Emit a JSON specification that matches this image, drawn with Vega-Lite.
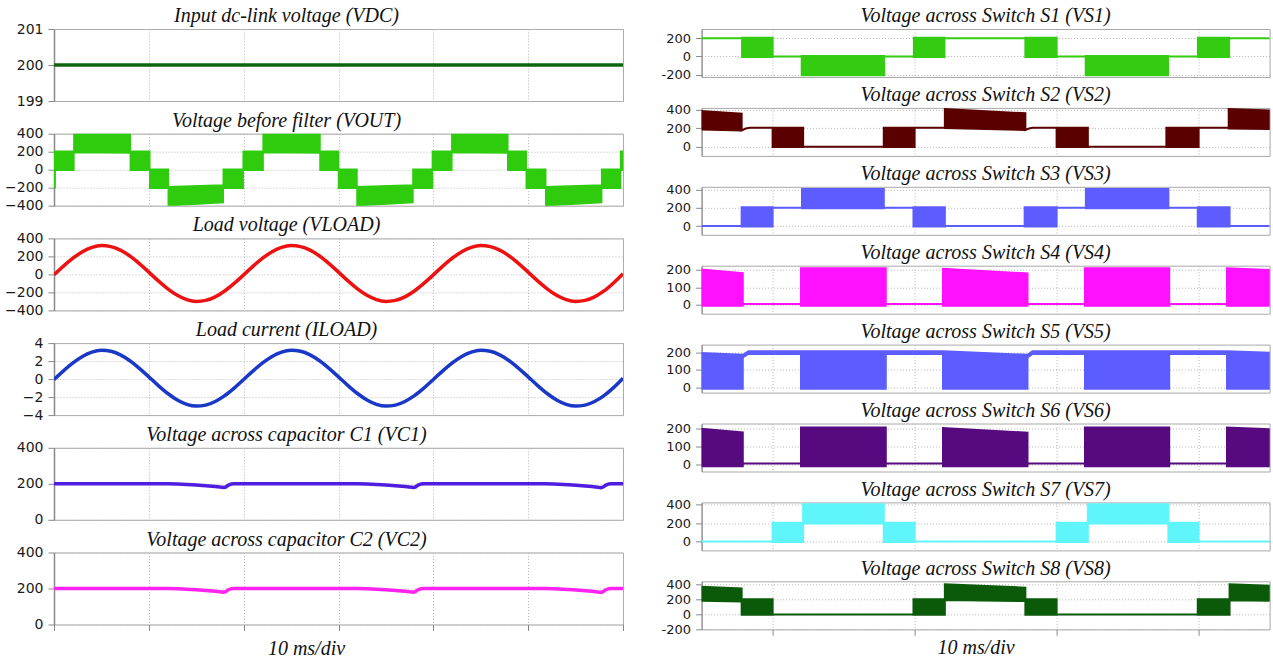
{
 "$schema": "https://vega.github.io/schema/vega-lite/v6.json",
 "padding": {"left": 3, "top": 5, "right": 5, "bottom": 0},
 "background": "white",
 "config": {
  "view": {"stroke": "#a8a8a8", "strokeWidth": 1},
  "axis": {"labelFont": "DejaVu Sans", "labelFontSize": 14, "labelColor": "#1a1a1a", "tickColor": "#888", "tickSize": 6, "labelPadding": 5, "labelOverlap": false, "domainColor": "#888", "gridColor": "#b5b5b5", "gridDash": [1, 2], "gridWidth": 1, "titleFont": "Liberation Serif", "titleFontStyle": "italic", "titleFontWeight": "normal", "titleFontSize": 20, "titleColor": "#111"},
  "title": {"font": "Liberation Serif", "fontStyle": "italic", "fontWeight": "normal", "fontSize": 20, "offset": 3, "color": "#111", "anchor": "middle", "frame": "group"}
 },
 "datasets": {
  "vdc": [{"t": 0, "v": 200}, {"t": 60, "v": 200}],
  "vout": [
   {"t": 0, "lo": -200, "hi": 200}, {"t": 0.12, "lo": -200, "hi": 200}, {"t": 0.121, "lo": -5, "hi": 205},
   {"t": 2.1, "lo": -5, "hi": 205}, {"t": 2.101, "lo": 190, "hi": 400}, {"t": 8.05, "lo": 185, "hi": 400},
   {"t": 8.051, "lo": -5, "hi": 205}, {"t": 10.1, "lo": -5, "hi": 205}, {"t": 10.101, "lo": -205, "hi": 5},
   {"t": 12.05, "lo": -205, "hi": 5}, {"t": 12.051, "lo": -400, "hi": -190}, {"t": 17.85, "lo": -365, "hi": -170},
   {"t": 17.851, "lo": -205, "hi": 5}, {"t": 19.95, "lo": -205, "hi": 5}, {"t": 19.951, "lo": -5, "hi": 205},
   {"t": 22.05, "lo": -5, "hi": 205}, {"t": 22.051, "lo": 190, "hi": 400}, {"t": 28.05, "lo": 185, "hi": 400},
   {"t": 28.051, "lo": -5, "hi": 205}, {"t": 30.0, "lo": -5, "hi": 205}, {"t": 30.001, "lo": -205, "hi": 5},
   {"t": 31.95, "lo": -205, "hi": 5}, {"t": 31.951, "lo": -400, "hi": -190}, {"t": 37.85, "lo": -365, "hi": -170},
   {"t": 37.851, "lo": -205, "hi": 5}, {"t": 39.9, "lo": -205, "hi": 5}, {"t": 39.901, "lo": -5, "hi": 205},
   {"t": 41.95, "lo": -5, "hi": 205}, {"t": 41.951, "lo": 190, "hi": 400}, {"t": 47.85, "lo": 185, "hi": 400},
   {"t": 47.851, "lo": -5, "hi": 205}, {"t": 49.8, "lo": -5, "hi": 205}, {"t": 49.801, "lo": -205, "hi": 5},
   {"t": 51.85, "lo": -205, "hi": 5}, {"t": 51.851, "lo": -400, "hi": -190}, {"t": 57.75, "lo": -365, "hi": -170},
   {"t": 57.751, "lo": -205, "hi": 5}, {"t": 59.75, "lo": -205, "hi": 5}, {"t": 59.751, "lo": -5, "hi": 205},
   {"t": 60, "lo": -5, "hi": 205}
  ],
  "sine": [
   {"t": 0, "v": -5, "i": -0.05}, {"t": 1, "v": 92, "i": 0.92}, {"t": 2, "v": 180, "i": 1.8}, {"t": 3, "v": 252, "i": 2.52}, {"t": 4, "v": 300, "i": 3.0},
   {"t": 5, "v": 320, "i": 3.2}, {"t": 6, "v": 309, "i": 3.09}, {"t": 7, "v": 269, "i": 2.69}, {"t": 8, "v": 204, "i": 2.04}, {"t": 9, "v": 120, "i": 1.2},
   {"t": 10, "v": 25, "i": 0.25}, {"t": 11, "v": -72, "i": -0.72}, {"t": 12, "v": -160, "i": -1.6}, {"t": 13, "v": -232, "i": -2.32}, {"t": 14, "v": -280, "i": -2.8},
   {"t": 15, "v": -300, "i": -3.0}, {"t": 16, "v": -289, "i": -2.89}, {"t": 17, "v": -249, "i": -2.49}, {"t": 18, "v": -184, "i": -1.84}, {"t": 19, "v": -100, "i": -1.0},
   {"t": 20, "v": -5, "i": -0.05}, {"t": 21, "v": 92, "i": 0.92}, {"t": 22, "v": 180, "i": 1.8}, {"t": 23, "v": 252, "i": 2.52}, {"t": 24, "v": 300, "i": 3.0},
   {"t": 25, "v": 320, "i": 3.2}, {"t": 26, "v": 309, "i": 3.09}, {"t": 27, "v": 269, "i": 2.69}, {"t": 28, "v": 204, "i": 2.04}, {"t": 29, "v": 120, "i": 1.2},
   {"t": 30, "v": 25, "i": 0.25}, {"t": 31, "v": -72, "i": -0.72}, {"t": 32, "v": -160, "i": -1.6}, {"t": 33, "v": -232, "i": -2.32}, {"t": 34, "v": -280, "i": -2.8},
   {"t": 35, "v": -300, "i": -3.0}, {"t": 36, "v": -289, "i": -2.89}, {"t": 37, "v": -249, "i": -2.49}, {"t": 38, "v": -184, "i": -1.84}, {"t": 39, "v": -100, "i": -1.0},
   {"t": 40, "v": -5, "i": -0.05}, {"t": 41, "v": 92, "i": 0.92}, {"t": 42, "v": 180, "i": 1.8}, {"t": 43, "v": 252, "i": 2.52}, {"t": 44, "v": 300, "i": 3.0},
   {"t": 45, "v": 320, "i": 3.2}, {"t": 46, "v": 309, "i": 3.09}, {"t": 47, "v": 269, "i": 2.69}, {"t": 48, "v": 204, "i": 2.04}, {"t": 49, "v": 120, "i": 1.2},
   {"t": 50, "v": 25, "i": 0.25}, {"t": 51, "v": -72, "i": -0.72}, {"t": 52, "v": -160, "i": -1.6}, {"t": 53, "v": -232, "i": -2.32}, {"t": 54, "v": -280, "i": -2.8},
   {"t": 55, "v": -300, "i": -3.0}, {"t": 56, "v": -289, "i": -2.89}, {"t": 57, "v": -249, "i": -2.49}, {"t": 58, "v": -184, "i": -1.84}, {"t": 59, "v": -95, "i": -0.95},
   {"t": 60, "v": 8, "i": 0.1}
  ],
  "cap": [
   {"t": 0, "v": 200}, {"t": 12, "v": 200}, {"t": 13, "v": 198.5}, {"t": 14, "v": 196}, {"t": 15, "v": 193}, {"t": 16, "v": 189}, {"t": 17, "v": 184.5}, {"t": 17.9, "v": 179}, {"t": 18.1, "v": 182}, {"t": 18.35, "v": 192}, {"t": 18.7, "v": 199}, {"t": 19, "v": 200},
   {"t": 32, "v": 200}, {"t": 33, "v": 198.5}, {"t": 34, "v": 196}, {"t": 35, "v": 193}, {"t": 36, "v": 189}, {"t": 37, "v": 184.5}, {"t": 37.9, "v": 179}, {"t": 38.1, "v": 182}, {"t": 38.35, "v": 192}, {"t": 38.7, "v": 199}, {"t": 39, "v": 200},
   {"t": 51.7, "v": 200}, {"t": 52.7, "v": 198.5}, {"t": 53.7, "v": 196}, {"t": 54.7, "v": 193}, {"t": 55.7, "v": 189}, {"t": 56.7, "v": 184.5}, {"t": 57.7, "v": 178}, {"t": 57.9, "v": 182}, {"t": 58.15, "v": 192}, {"t": 58.5, "v": 199}, {"t": 58.8, "v": 200},
   {"t": 60, "v": 200}
  ],
  "s1": [
   {"t": 0, "lo": 200, "hi": 200}, {"t": 2.85, "lo": 200, "hi": 200}, {"t": 2.851, "lo": -5, "hi": 205}, {"t": 5.0, "lo": -5, "hi": 205},
   {"t": 5.001, "lo": 0, "hi": 0}, {"t": 7.05, "lo": 0, "hi": 0}, {"t": 7.051, "lo": -205, "hi": 5}, {"t": 12.85, "lo": -205, "hi": 5},
   {"t": 12.851, "lo": 0, "hi": 0}, {"t": 14.95, "lo": 0, "hi": 0}, {"t": 14.951, "lo": -5, "hi": 205}, {"t": 17.1, "lo": -5, "hi": 205},
   {"t": 17.101, "lo": 200, "hi": 200}, {"t": 22.8, "lo": 200, "hi": 200}, {"t": 22.801, "lo": -5, "hi": 205}, {"t": 25.0, "lo": -5, "hi": 205},
   {"t": 25.001, "lo": 0, "hi": 0}, {"t": 27.05, "lo": 0, "hi": 0}, {"t": 27.051, "lo": -205, "hi": 5}, {"t": 32.85, "lo": -205, "hi": 5},
   {"t": 32.851, "lo": 0, "hi": 0}, {"t": 34.95, "lo": 0, "hi": 0}, {"t": 34.951, "lo": -5, "hi": 205}, {"t": 37.15, "lo": -5, "hi": 205},
   {"t": 37.151, "lo": 200, "hi": 200}, {"t": 40, "lo": 200, "hi": 200}
  ],
  "s2": [
   {"t": 0, "lo": 185, "hi": 385}, {"t": 2.82, "lo": 175, "hi": 355}, {"t": 2.821, "lo": 175, "hi": 175}, {"t": 3.1, "lo": 195, "hi": 195},
   {"t": 3.4, "lo": 203, "hi": 203}, {"t": 5.0, "lo": 203, "hi": 203}, {"t": 5.001, "lo": -5, "hi": 205}, {"t": 7.15, "lo": -5, "hi": 205},
   {"t": 7.151, "lo": 0, "hi": 0}, {"t": 12.83, "lo": 0, "hi": 0}, {"t": 12.831, "lo": -5, "hi": 205}, {"t": 15.0, "lo": -5, "hi": 205},
   {"t": 15.001, "lo": 203, "hi": 203}, {"t": 17.13, "lo": 203, "hi": 203}, {"t": 17.131, "lo": 200, "hi": 405}, {"t": 22.8, "lo": 180, "hi": 360},
   {"t": 22.801, "lo": 180, "hi": 180}, {"t": 23.05, "lo": 195, "hi": 195}, {"t": 23.3, "lo": 203, "hi": 203}, {"t": 25.0, "lo": 203, "hi": 203},
   {"t": 25.001, "lo": -5, "hi": 205}, {"t": 27.2, "lo": -5, "hi": 205}, {"t": 27.201, "lo": 0, "hi": 0}, {"t": 32.73, "lo": 0, "hi": 0},
   {"t": 32.731, "lo": -5, "hi": 205}, {"t": 35.0, "lo": -5, "hi": 205}, {"t": 35.001, "lo": 203, "hi": 203}, {"t": 37.12, "lo": 203, "hi": 203},
   {"t": 37.121, "lo": 195, "hi": 405}, {"t": 40, "lo": 190, "hi": 390}
  ],
  "s3": [
   {"t": 0, "lo": 0, "hi": 0}, {"t": 2.82, "lo": 0, "hi": 0}, {"t": 2.821, "lo": -5, "hi": 205}, {"t": 5.0, "lo": -5, "hi": 205},
   {"t": 5.001, "lo": 200, "hi": 200}, {"t": 7.07, "lo": 200, "hi": 200}, {"t": 7.071, "lo": 195, "hi": 405}, {"t": 12.83, "lo": 195, "hi": 405},
   {"t": 12.831, "lo": 200, "hi": 200}, {"t": 14.92, "lo": 200, "hi": 200}, {"t": 14.921, "lo": -5, "hi": 205}, {"t": 17.13, "lo": -5, "hi": 205},
   {"t": 17.131, "lo": 0, "hi": 0}, {"t": 22.75, "lo": 0, "hi": 0}, {"t": 22.751, "lo": -5, "hi": 205}, {"t": 25.0, "lo": -5, "hi": 205},
   {"t": 25.001, "lo": 200, "hi": 200}, {"t": 27.06, "lo": 200, "hi": 200}, {"t": 27.061, "lo": 195, "hi": 405}, {"t": 32.87, "lo": 195, "hi": 405},
   {"t": 32.871, "lo": 200, "hi": 200}, {"t": 34.94, "lo": 200, "hi": 200}, {"t": 34.941, "lo": -5, "hi": 205}, {"t": 37.18, "lo": -5, "hi": 205},
   {"t": 37.181, "lo": 0, "hi": 0}, {"t": 40, "lo": 0, "hi": 0}
  ],
  "s4": [
   {"t": 0, "lo": -5, "hi": 200}, {"t": 2.9, "lo": -5, "hi": 180}, {"t": 2.901, "lo": 5, "hi": 5}, {"t": 7.0, "lo": 5, "hi": 5},
   {"t": 7.001, "lo": -5, "hi": 208}, {"t": 12.97, "lo": -5, "hi": 208}, {"t": 12.971, "lo": 5, "hi": 5}, {"t": 17.0, "lo": 5, "hi": 5},
   {"t": 17.001, "lo": -5, "hi": 205}, {"t": 22.95, "lo": -5, "hi": 178}, {"t": 22.951, "lo": 5, "hi": 5}, {"t": 27.0, "lo": 5, "hi": 5},
   {"t": 27.001, "lo": -5, "hi": 208}, {"t": 32.93, "lo": -5, "hi": 208}, {"t": 32.931, "lo": 5, "hi": 5}, {"t": 37.0, "lo": 5, "hi": 5},
   {"t": 37.001, "lo": -5, "hi": 207}, {"t": 40, "lo": -5, "hi": 198}
  ],
  "s5": [
   {"t": 0, "lo": -8, "hi": 195}, {"t": 2.9, "lo": -8, "hi": 185}, {"t": 2.901, "lo": 170, "hi": 185}, {"t": 3.3, "lo": 190, "hi": 205},
   {"t": 7.0, "lo": 190, "hi": 205}, {"t": 7.001, "lo": -8, "hi": 205}, {"t": 12.97, "lo": -8, "hi": 205}, {"t": 12.971, "lo": 190, "hi": 205},
   {"t": 17.0, "lo": 190, "hi": 205}, {"t": 17.001, "lo": -8, "hi": 205}, {"t": 22.95, "lo": -8, "hi": 185}, {"t": 22.951, "lo": 170, "hi": 185},
   {"t": 23.3, "lo": 190, "hi": 205}, {"t": 27.0, "lo": 190, "hi": 205}, {"t": 27.001, "lo": -8, "hi": 205}, {"t": 32.93, "lo": -8, "hi": 205},
   {"t": 32.931, "lo": 190, "hi": 205}, {"t": 37.0, "lo": 190, "hi": 205}, {"t": 37.001, "lo": -8, "hi": 205}, {"t": 40, "lo": -8, "hi": 197}
  ],
  "s6": [
   {"t": 0, "lo": -10, "hi": 200}, {"t": 2.9, "lo": -10, "hi": 180}, {"t": 2.901, "lo": 5, "hi": 5}, {"t": 7.0, "lo": 5, "hi": 5},
   {"t": 7.001, "lo": -10, "hi": 208}, {"t": 12.97, "lo": -10, "hi": 208}, {"t": 12.971, "lo": 5, "hi": 5}, {"t": 17.0, "lo": 5, "hi": 5},
   {"t": 17.001, "lo": -10, "hi": 205}, {"t": 22.95, "lo": -10, "hi": 178}, {"t": 22.951, "lo": 5, "hi": 5}, {"t": 27.0, "lo": 5, "hi": 5},
   {"t": 27.001, "lo": -10, "hi": 208}, {"t": 32.93, "lo": -10, "hi": 208}, {"t": 32.931, "lo": 5, "hi": 5}, {"t": 37.0, "lo": 5, "hi": 5},
   {"t": 37.001, "lo": -10, "hi": 207}, {"t": 40, "lo": -10, "hi": 198}
  ],
  "s7": [
   {"t": 0, "lo": 0, "hi": 0}, {"t": 5.0, "lo": 0, "hi": 0}, {"t": 5.001, "lo": -5, "hi": 205}, {"t": 7.15, "lo": -5, "hi": 205},
   {"t": 7.151, "lo": 195, "hi": 405}, {"t": 12.83, "lo": 195, "hi": 405}, {"t": 12.831, "lo": -5, "hi": 205}, {"t": 15.0, "lo": -5, "hi": 205},
   {"t": 15.001, "lo": 0, "hi": 0}, {"t": 25.0, "lo": 0, "hi": 0}, {"t": 25.001, "lo": -5, "hi": 205}, {"t": 27.2, "lo": -5, "hi": 205},
   {"t": 27.201, "lo": 195, "hi": 405}, {"t": 32.87, "lo": 195, "hi": 405}, {"t": 32.871, "lo": -5, "hi": 205}, {"t": 35.0, "lo": -5, "hi": 205},
   {"t": 35.001, "lo": 0, "hi": 0}, {"t": 40, "lo": 0, "hi": 0}
  ],
  "s8": [
   {"t": 0, "lo": 185, "hi": 370}, {"t": 2.82, "lo": 175, "hi": 350}, {"t": 2.821, "lo": -5, "hi": 205}, {"t": 5.0, "lo": -5, "hi": 205},
   {"t": 5.001, "lo": 0, "hi": 0}, {"t": 14.92, "lo": 0, "hi": 0}, {"t": 14.921, "lo": -5, "hi": 205}, {"t": 17.13, "lo": -5, "hi": 205},
   {"t": 17.131, "lo": 195, "hi": 405}, {"t": 22.8, "lo": 180, "hi": 360}, {"t": 22.801, "lo": -5, "hi": 205}, {"t": 25.0, "lo": -5, "hi": 205},
   {"t": 25.001, "lo": 0, "hi": 0}, {"t": 34.94, "lo": 0, "hi": 0}, {"t": 34.941, "lo": -5, "hi": 205}, {"t": 37.18, "lo": -5, "hi": 205},
   {"t": 37.181, "lo": 190, "hi": 405}, {"t": 40, "lo": 185, "hi": 385}
  ]
 },
 "spacing": 32.6,
 "hconcat": [
  {
   "spacing": 32.7,
   "bounds": "flush",
   "vconcat": [
    {
     "width": 569, "height": 72,
     "title": {"text": "Input dc-link voltage (VDC)", "dx": -52, "dy": 7},
     "data": {"name": "vdc"},
     "mark": {"type": "line", "color": "#0d640d", "strokeWidth": 3.5, "clip": true},
     "encoding": {
      "x": {"field": "t", "type": "quantitative", "scale": {"domain": [0, 60], "nice": false, "zero": false}, "axis": {"values": [0, 10, 20, 30, 40, 50, 60], "labels": false, "ticks": false, "domain": false, "title": null}},
      "y": {"field": "v", "type": "quantitative", "scale": {"domain": [199, 201], "nice": false, "zero": false}, "axis": {"values": [199, 200, 201], "format": ".0f", "labelOverlap": false, "title": null, "minExtent": 50, "maxExtent": 50, "domainWidth": 1.5}}
     }
    },
    {
     "width": 569, "height": 72,
     "title": {"text": "Voltage before filter (VOUT)", "dx": -52, "dy": 7},
     "data": {"name": "vout"},
     "mark": {"type": "area", "color": "#2fcc0e", "stroke": "#2fcc0e", "strokeWidth": 1.5, "opacity": 1, "clip": true},
     "encoding": {
      "x": {"field": "t", "type": "quantitative", "scale": {"domain": [0, 60], "nice": false, "zero": false}, "axis": {"values": [0, 10, 20, 30, 40, 50, 60], "labels": false, "ticks": false, "domain": false, "title": null}},
      "y": {"field": "lo", "type": "quantitative", "scale": {"domain": [-400, 400], "nice": false, "zero": false}, "axis": {"values": [-400, -200, 0, 200, 400], "title": null, "minExtent": 50, "maxExtent": 50, "domainWidth": 1.5}},
      "y2": {"field": "hi"}
     }
    },
    {
     "width": 569, "height": 72,
     "title": {"text": "Load voltage (VLOAD)", "dx": -52, "dy": 7},
     "data": {"name": "sine"},
     "mark": {"type": "line", "color": "#ee1111", "strokeWidth": 3.5, "interpolate": "monotone", "clip": true},
     "encoding": {
      "x": {"field": "t", "type": "quantitative", "scale": {"domain": [0, 60], "nice": false, "zero": false}, "axis": {"values": [0, 10, 20, 30, 40, 50, 60], "labels": false, "ticks": false, "domain": false, "title": null}},
      "y": {"field": "v", "type": "quantitative", "scale": {"domain": [-400, 400], "nice": false, "zero": false}, "axis": {"values": [-400, -200, 0, 200, 400], "title": null, "minExtent": 50, "maxExtent": 50, "domainWidth": 1.5}}
     }
    },
    {
     "width": 569, "height": 72,
     "title": {"text": "Load current (ILOAD)", "dx": -52, "dy": 7},
     "data": {"name": "sine"},
     "mark": {"type": "line", "color": "#1a38c8", "strokeWidth": 3.5, "interpolate": "monotone", "clip": true},
     "encoding": {
      "x": {"field": "t", "type": "quantitative", "scale": {"domain": [0, 60], "nice": false, "zero": false}, "axis": {"values": [0, 10, 20, 30, 40, 50, 60], "labels": false, "ticks": false, "domain": false, "title": null}},
      "y": {"field": "i", "type": "quantitative", "scale": {"domain": [-4, 4], "nice": false, "zero": false}, "axis": {"values": [-4, -2, 0, 2, 4], "title": null, "minExtent": 50, "maxExtent": 50, "domainWidth": 1.5}}
     }
    },
    {
     "width": 569, "height": 72,
     "title": {"text": "Voltage across capacitor C1 (VC1)", "dx": -52, "dy": 7},
     "data": {"name": "cap"},
     "mark": {"type": "line", "color": "#4f1de0", "strokeWidth": 3.5, "clip": true},
     "encoding": {
      "x": {"field": "t", "type": "quantitative", "scale": {"domain": [0, 60], "nice": false, "zero": false}, "axis": {"values": [0, 10, 20, 30, 40, 50, 60], "labels": false, "ticks": false, "domain": false, "title": null}},
      "y": {"field": "v", "type": "quantitative", "scale": {"domain": [0, 400], "nice": false, "zero": false}, "axis": {"values": [0, 200, 400], "title": null, "minExtent": 50, "maxExtent": 50, "domainWidth": 1.5}}
     }
    },
    {
     "width": 569, "height": 72,
     "title": {"text": "Voltage across capacitor C2 (VC2)", "dx": -52, "dy": 7},
     "data": {"name": "cap"},
     "mark": {"type": "line", "color": "#ff22f0", "strokeWidth": 3.5, "clip": true},
     "encoding": {
      "x": {"field": "t", "type": "quantitative", "scale": {"domain": [0, 60], "nice": false, "zero": false}, "axis": {"values": [0, 10, 20, 30, 40, 50, 60], "labels": false, "ticks": true, "tickSize": 6, "domain": false, "title": "10 ms/div", "titlePadding": 7, "titleX": 252, "titleAlign": "center"}},
      "y": {"field": "v", "type": "quantitative", "scale": {"domain": [0, 400], "nice": false, "zero": false}, "axis": {"values": [0, 200, 400], "title": null, "minExtent": 50, "maxExtent": 50, "domainWidth": 1.5}}
     }
    }
   ]
  },
  {
   "spacing": 30.9,
   "bounds": "flush",
   "vconcat": [
    {
     "width": 568, "height": 48,
     "title": {"text": "Voltage across Switch S1 (VS1)", "dy": 0},
     "data": {"name": "s1"},
     "mark": {"type": "area", "color": "#33cc11", "stroke": "#33cc11", "strokeWidth": 2, "opacity": 1, "clip": true},
     "encoding": {
      "x": {"field": "t", "type": "quantitative", "scale": {"domain": [0, 40], "nice": false, "zero": false}, "axis": {"values": [5, 15, 25, 35], "labels": false, "ticks": false, "domain": false, "title": null}},
      "y": {"field": "lo", "type": "quantitative", "scale": {"domain": [-225, 300], "nice": false, "zero": false}, "axis": {"values": [-200, 0, 200], "title": null, "minExtent": 44, "maxExtent": 44, "labelFontSize": 13, "labelExpr": "replace(datum.label, '−', '-')"}},
      "y2": {"field": "hi"}
     }
    },
    {
     "width": 568, "height": 48,
     "title": {"text": "Voltage across Switch S2 (VS2)", "dy": 4.8},
     "data": {"name": "s2"},
     "mark": {"type": "area", "color": "#5a0000", "stroke": "#5a0000", "strokeWidth": 2, "opacity": 1, "clip": true},
     "encoding": {
      "x": {"field": "t", "type": "quantitative", "scale": {"domain": [0, 40], "nice": false, "zero": false}, "axis": {"values": [5, 15, 25, 35], "labels": false, "ticks": false, "domain": false, "title": null}},
      "y": {"field": "lo", "type": "quantitative", "scale": {"domain": [-100, 418], "nice": false, "zero": false}, "axis": {"values": [0, 200, 400], "title": null, "minExtent": 44, "maxExtent": 44, "labelFontSize": 13, "labelExpr": "replace(datum.label, '−', '-')"}},
      "y2": {"field": "hi"}
     }
    },
    {
     "width": 568, "height": 48,
     "title": {"text": "Voltage across Switch S3 (VS3)", "dy": 3.8},
     "data": {"name": "s3"},
     "mark": {"type": "area", "color": "#5c5cff", "stroke": "#5c5cff", "strokeWidth": 2, "opacity": 1, "clip": true},
     "encoding": {
      "x": {"field": "t", "type": "quantitative", "scale": {"domain": [0, 40], "nice": false, "zero": false}, "axis": {"values": [5, 15, 25, 35], "labels": false, "ticks": false, "domain": false, "title": null}},
      "y": {"field": "lo", "type": "quantitative", "scale": {"domain": [-96, 430], "nice": false, "zero": false}, "axis": {"values": [0, 200, 400], "title": null, "minExtent": 44, "maxExtent": 44, "labelFontSize": 13, "labelExpr": "replace(datum.label, '−', '-')"}},
      "y2": {"field": "hi"}
     }
    },
    {
     "width": 568, "height": 48,
     "title": {"text": "Voltage across Switch S4 (VS4)", "dy": 2.6},
     "data": {"name": "s4"},
     "mark": {"type": "area", "color": "#ff11ff", "stroke": "#ff11ff", "strokeWidth": 2, "opacity": 1, "clip": true},
     "encoding": {
      "x": {"field": "t", "type": "quantitative", "scale": {"domain": [0, 40], "nice": false, "zero": false}, "axis": {"values": [5, 15, 25, 35], "labels": false, "ticks": false, "domain": false, "title": null}},
      "y": {"field": "lo", "type": "quantitative", "scale": {"domain": [-50, 222], "nice": false, "zero": false}, "axis": {"values": [0, 100, 200], "title": null, "minExtent": 44, "maxExtent": 44, "labelFontSize": 13, "labelExpr": "replace(datum.label, '−', '-')"}},
      "y2": {"field": "hi"}
     }
    },
    {
     "width": 568, "height": 48,
     "title": {"text": "Voltage across Switch S5 (VS5)", "dy": 0},
     "data": {"name": "s5"},
     "mark": {"type": "area", "color": "#5c5cff", "stroke": "#5c5cff", "strokeWidth": 2, "opacity": 1, "clip": true},
     "encoding": {
      "x": {"field": "t", "type": "quantitative", "scale": {"domain": [0, 40], "nice": false, "zero": false}, "axis": {"values": [5, 15, 25, 35], "labels": false, "ticks": false, "domain": false, "title": null}},
      "y": {"field": "lo", "type": "quantitative", "scale": {"domain": [-30, 243], "nice": false, "zero": false}, "axis": {"values": [0, 100, 200], "title": null, "minExtent": 44, "maxExtent": 44, "labelFontSize": 13, "labelExpr": "replace(datum.label, '−', '-')"}},
      "y2": {"field": "hi"}
     }
    },
    {
     "width": 568, "height": 48,
     "title": {"text": "Voltage across Switch S6 (VS6)", "dy": 1.2},
     "data": {"name": "s6"},
     "mark": {"type": "area", "color": "#570a80", "stroke": "#570a80", "strokeWidth": 2, "opacity": 1, "clip": true},
     "encoding": {
      "x": {"field": "t", "type": "quantitative", "scale": {"domain": [0, 40], "nice": false, "zero": false}, "axis": {"values": [5, 15, 25, 35], "labels": false, "ticks": false, "domain": false, "title": null}},
      "y": {"field": "lo", "type": "quantitative", "scale": {"domain": [-40, 230], "nice": false, "zero": false}, "axis": {"values": [0, 100, 200], "title": null, "minExtent": 44, "maxExtent": 44, "labelFontSize": 13, "labelExpr": "replace(datum.label, '−', '-')"}},
      "y2": {"field": "hi"}
     }
    },
    {
     "width": 568, "height": 48,
     "title": {"text": "Voltage across Switch S7 (VS7)", "dy": 4.1},
     "data": {"name": "s7"},
     "mark": {"type": "area", "color": "#5ff5fa", "stroke": "#5ff5fa", "strokeWidth": 2, "opacity": 1, "clip": true},
     "encoding": {
      "x": {"field": "t", "type": "quantitative", "scale": {"domain": [0, 40], "nice": false, "zero": false}, "axis": {"values": [5, 15, 25, 35], "labels": false, "ticks": false, "domain": false, "title": null}},
      "y": {"field": "lo", "type": "quantitative", "scale": {"domain": [-97, 426], "nice": false, "zero": false}, "axis": {"values": [0, 200, 400], "title": null, "minExtent": 44, "maxExtent": 44, "labelFontSize": 13, "labelExpr": "replace(datum.label, '−', '-')"}},
      "y2": {"field": "hi"}
     }
    },
    {
     "width": 568, "height": 48,
     "title": {"text": "Voltage across Switch S8 (VS8)", "dy": 3.2},
     "data": {"name": "s8"},
     "mark": {"type": "area", "color": "#0a5a0a", "stroke": "#0a5a0a", "strokeWidth": 2, "opacity": 1, "clip": true},
     "encoding": {
      "x": {"field": "t", "type": "quantitative", "scale": {"domain": [0, 40], "nice": false, "zero": false}, "axis": {"values": [5, 15, 25, 35], "labels": false, "ticks": true, "tickSize": 6, "domain": false, "title": "10 ms/div", "titlePadding": 2, "titleX": 274, "titleAlign": "center"}},
      "y": {"field": "lo", "type": "quantitative", "scale": {"domain": [-200, 445], "nice": false, "zero": false}, "axis": {"values": [-200, 0, 200, 400], "title": null, "minExtent": 44, "maxExtent": 44, "labelFontSize": 13, "labelExpr": "replace(datum.label, '−', '-')"}},
      "y2": {"field": "hi"}
     }
    }
   ]
  }
 ]
}
